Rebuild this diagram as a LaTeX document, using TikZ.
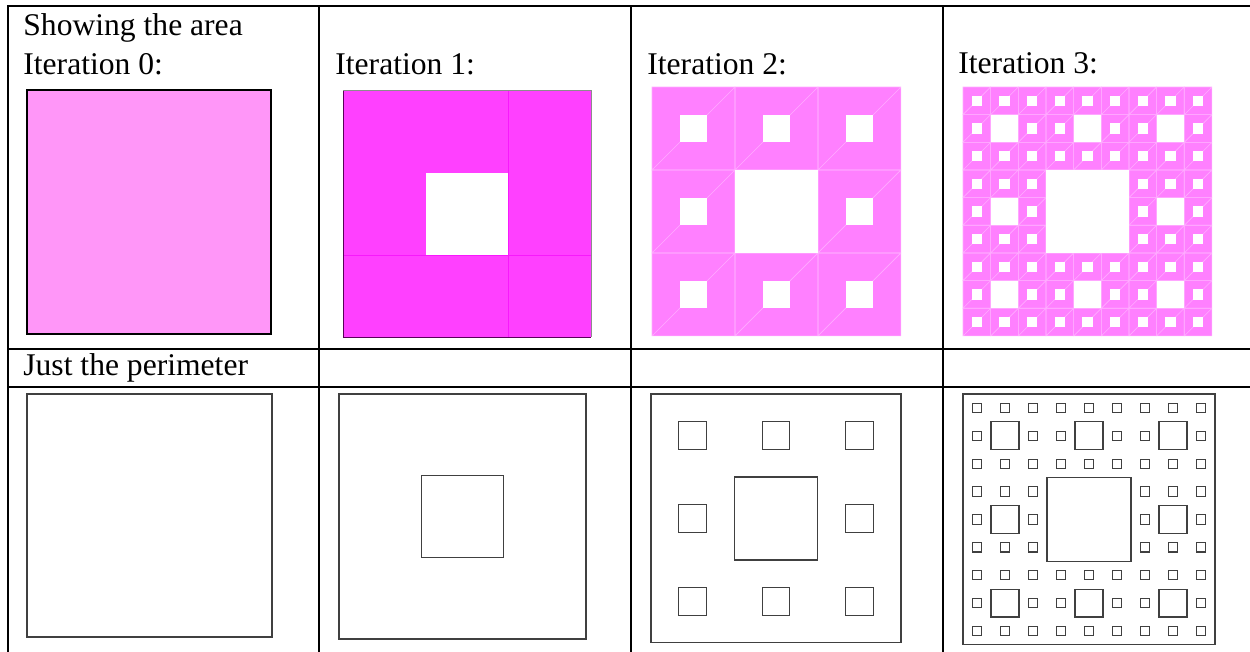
\documentclass[tikz,border=0pt]{standalone}
\usepackage{fontspec}
\setmainfont{Liberation Serif}

\definecolor{areazero}{RGB}{255,150,248}
\definecolor{areaone}{RGB}{255,64,255}
\definecolor{areatwo}{RGB}{255,128,255}
\definecolor{seamfuchsia}{RGB}{248,24,252}

\tikzset{
  tablerule/.style={line width=1pt},
  celltext/.style={anchor=base west,inner sep=0pt,font=\fontsize{15.8}{18}\selectfont},
  outline/.style={draw=black!75,line width=0.55pt},
  seamone/.style={draw=seamfuchsia,line width=0.35pt},
  seamtwo/.style={draw=areatwo!65!white,line width=0.3pt}
}

\begin{document}
\begin{tikzpicture}[x=0.5pt,y=-0.5pt]
            \useasboundingbox (0,0) rectangle (1250,652);
            % table rules
            \foreach \y in {6,349,387}
                \draw [tablerule] (7,\y) -- (1251,\y);
            \foreach \x in {8,319,631,943}
                \draw [tablerule] (\x,6) -- (\x,652);
            % cell texts
            \node [celltext] (title) at (23,36) {Showing the area};
            \node [celltext] (iterzero) at (23,75) {Iteration 0:};
            \node [celltext] (iterone) at (335,75) {Iteration 1:};
            \node [celltext] (itertwo) at (647,75) {Iteration 2:};
            \node [celltext] (iterthree) at (958,74) {Iteration 3:};
            \node [celltext] (perim) at (23,376) {Just the perimeter};
            % area, iteration 0
            \draw [line width=1pt,fill=areazero] (27,90) rectangle (271,334);
            % area, iteration 1
            \begin{scope}[shift={(343,91)},x=13.78pt,y=-13.67pt]
                \fill [areaone] (0,0) rectangle (9,9);
                \draw [seamone] (6,0) -- (6,9) (0,6) -- (9,6);
                \fill [white] (3,3) rectangle (6,6);
                \draw [draw=violet!70!black,line width=0.5pt] (0,0) -- (0,9) -- (9,9);
                \draw [draw=black!45,line width=0.5pt] (0,0) -- (9,0) -- (9,9);
            \end{scope}
            % area, iteration 2
            \begin{scope}[shift={(652,87)},x=13.83pt,y=-13.83pt]
                \fill [areatwo] (0,0) rectangle (9,9);
                \foreach \a in {0,1,2}
                    \foreach \b in {0,1,2}
                        \draw [seamtwo] (3*\a,3*\b) rectangle +(3,3) (3*\a,3*\b+3) -- +(3,-3);
                \fill [white] (3,3) rectangle (6,6);
                \foreach \a in {0,1,2}
                    \foreach \b in {0,1,2}
                        \fill [white] (3*\a+1,3*\b+1) rectangle +(1,1);
            \end{scope}
            % area, iteration 3
            \begin{scope}[shift={(963,87)},x=13.83pt,y=-13.83pt]
                \fill [areatwo] (0,0) rectangle (9,9);
                \foreach \i in {0,...,8}
                    \foreach \j in {0,...,8}
                        \draw [seamtwo] (\i,\j) rectangle +(1,1) (\i,\j+1) -- +(1,-1);
                \fill [white] (3,3) rectangle (6,6);
                \foreach \a in {0,1,2}
                    \foreach \b in {0,1,2}
                        \fill [white] (3*\a+1,3*\b+1) rectangle +(1,1);
                \foreach \i in {0,...,8}
                    \foreach \j in {0,...,8}
                        \fill [white] (\i+0.31,\j+0.31) rectangle +(0.38,0.38);
            \end{scope}
            % perimeter, iteration 0
            \draw [outline] (27,394) rectangle (272,637);
            % perimeter, iteration 1
            \begin{scope}[shift={(339,394)},x=13.72pt,y=-13.61pt]
                \draw [outline] (0,0) rectangle (9,9);
                \draw [outline] (3,3) rectangle (6,6);
            \end{scope}
            % perimeter, iteration 2
            \begin{scope}[shift={(651,394)},x=13.89pt,y=-13.83pt]
                \draw [outline] (0,0) rectangle (9,9);
                \draw [outline] (3,3) rectangle (6,6);
                \foreach \a in {0,1,2}
                    \foreach \b in {0,1,2} {
                        \ifnum\a\b=11 \else \draw [outline] (3*\a+1,3*\b+1) rectangle +(1,1); \fi
                    }
            \end{scope}
            % perimeter, iteration 3
            \begin{scope}[shift={(963,394)},x=14pt,y=-13.94pt]
                \draw [outline] (0,0) rectangle (9,9);
                \draw [outline] (3,3) rectangle (6,6);
                \foreach \a in {0,1,2}
                    \foreach \b in {0,1,2} {
                        \ifnum\a\b=11 \else \draw [outline] (3*\a+1,3*\b+1) rectangle +(1,1); \fi
                    }
                \foreach \i in {0,...,8}
                    \foreach \j in {0,...,8} {
                        \pgfmathtruncatemacro{\gone}{(mod(\i,3)==1 && mod(\j,3)==1) || (\i>2 && \i<6 && \j>2 && \j<6)}
                        \ifnum\gone=0 \draw [outline] (\i+1/3,\j+1/3) rectangle +(1/3,1/3); \fi
                    }
            \end{scope}
        \end{tikzpicture}
\end{document}
